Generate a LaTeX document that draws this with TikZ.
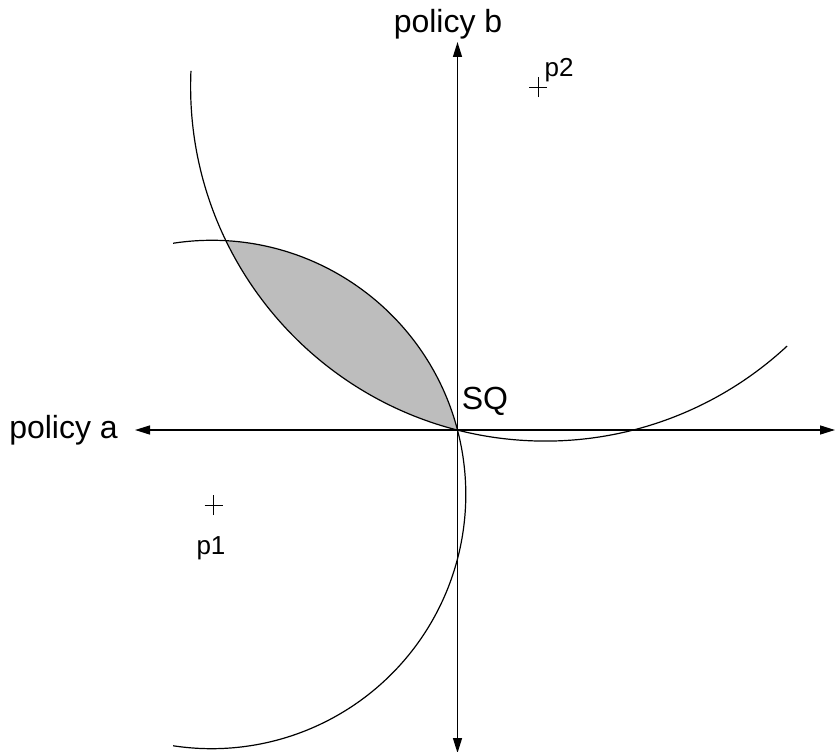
\documentclass[tikz,border=0pt]{standalone}
\usepackage{fontspec}
\setmainfont{Liberation Sans}
\usetikzlibrary{arrows.meta, positioning}

\begin{document}
\begin{tikzpicture}[
    x=1pt, y=-1pt,
    axis/.style={line width=1.4pt, {Triangle[length=15pt,width=9pt]}-{Triangle[length=15pt,width=9pt]}},
    curve/.style={line width=1.2pt},
    lens/.style={fill=black!26},
    plusmark/.style={line width=0.8pt},
    biglabel/.style={font=\fontsize{32}{36}\selectfont, inner sep=0pt},
    smalllabel/.style={font=\fontsize{26}{30}\selectfont, inner sep=0pt}
]
\useasboundingbox (0,0) rectangle (835,752);

% Points
\coordinate (sq) at (457.5,430);
\coordinate (p1) at (213.5,505);
\coordinate (p2) at (538,87);
\coordinate (c1) at (211.6,494.5);
\coordinate (c2) at (545.4,86.3);
\coordinate (west) at (135,430);
\coordinate (east) at (835,430);
\coordinate (north) at (457.5,42);
\coordinate (south) at (457.5,753);

% Shaded region between the two arcs
\fill[lens] (sq) arc[start angle=104.35, end angle=154.19, radius=354.8]
    arc[start angle=-86.75, end angle=-14.70, radius=254.2] -- cycle;

% Arcs
\draw[curve] (c1) ++(-98.7:254.2) arc[start angle=-98.7, end angle=98.7, radius=254.2];
\draw[curve] (c2) ++(182.5:354.8) arc[start angle=182.5, end angle=47.06, radius=354.8];

% Axes
\draw[axis] (west) -- (east);
\draw[axis] (north) -- (south);

% Ideal points
\draw[plusmark] ([xshift=-9pt]p1) -- ([xshift=9pt]p1) ([yshift=-10pt]p1) -- ([yshift=10pt]p1);
\draw[plusmark] ([xshift=-9pt]p2) -- ([xshift=9pt]p2) ([yshift=-10pt]p2) -- ([yshift=10pt]p2);

% Labels
\node (lsq) [biglabel] at (485,401) {SQ};
\node (la) [biglabel, left=17pt of west] {policy a};
\node (lb) [biglabel] at (448,24) {policy b};
\node (lp1) [smalllabel] at (211,548) {p1};
\node (lp2) [smalllabel] at (559,70) {p2};

\end{tikzpicture}
\end{document}
